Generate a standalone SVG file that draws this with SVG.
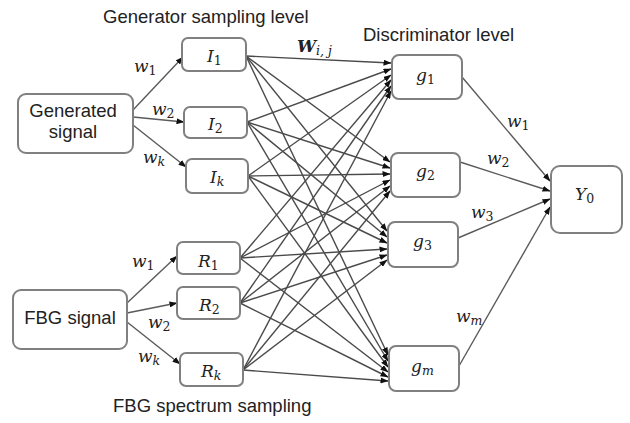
<svg xmlns="http://www.w3.org/2000/svg" width="630" height="423" viewBox="0 0 630 423">
<defs>
<marker id="ah" markerUnits="userSpaceOnUse" markerWidth="8" markerHeight="6" refX="7.5" refY="3" orient="auto">
<path d="M0,0 L8,3 L0,6 z" fill="#111"/>
</marker>
<style>
.box{fill:#fff;stroke:#808080;stroke-width:2}
.lbl{font-family:"Liberation Sans",Arial,sans-serif;font-size:18.5px;fill:#222}
.m{font-family:"DejaVu Serif","Liberation Serif",serif;font-style:italic;font-size:17px;fill:#222}
.s{font-size:12.5px}
.n{font-style:normal}
.c line{stroke:#4a4a4a;stroke-width:1.4;marker-end:url(#ah)}
.c .in line{stroke:#5a5a5a}
</style>
</defs>
<rect width="630" height="423" fill="#fff"/>

<text class="lbl" x="103" y="23">Generator sampling level</text>
<text class="lbl" x="363" y="41">Discriminator level</text>
<text class="lbl" x="113" y="412">FBG spectrum sampling</text>
<text class="m" x="297" y="52" font-weight="bold">W<tspan class="s" dy="3" font-weight="normal">i, j</tspan></text>

<g class="c" id="connectors">
<g class="in">
<line x1="133" y1="110" x2="183" y2="57"/>
<line x1="133" y1="117" x2="184" y2="122"/>
<line x1="133" y1="125" x2="186" y2="167"/>
<line x1="127" y1="303" x2="177" y2="256"/>
<line x1="127" y1="313" x2="177" y2="303"/>
<line x1="127" y1="322" x2="180" y2="364"/>
</g>
<!-- I1 -->
<line x1="246" y1="56" x2="391" y2="63"/>
<line x1="246" y1="56" x2="390" y2="162"/>
<line x1="246" y1="56" x2="387" y2="231"/>
<line x1="246" y1="56" x2="388" y2="355"/>
<!-- I2 -->
<line x1="247" y1="122" x2="391" y2="69"/>
<line x1="247" y1="122" x2="390" y2="168"/>
<line x1="247" y1="122" x2="387" y2="237"/>
<line x1="247" y1="122" x2="388" y2="361"/>
<!-- Ik -->
<line x1="248" y1="176" x2="391" y2="75"/>
<line x1="248" y1="176" x2="390" y2="174"/>
<line x1="248" y1="176" x2="387" y2="243"/>
<line x1="248" y1="176" x2="388" y2="367"/>
<!-- R1 -->
<line x1="240" y1="258" x2="391" y2="80"/>
<line x1="240" y1="258" x2="390" y2="180"/>
<line x1="240" y1="258" x2="387" y2="249"/>
<line x1="240" y1="258" x2="388" y2="372"/>
<!-- R2 -->
<line x1="240" y1="303" x2="391" y2="86"/>
<line x1="240" y1="303" x2="390" y2="186"/>
<line x1="240" y1="303" x2="387" y2="255"/>
<line x1="240" y1="303" x2="388" y2="377"/>
<!-- Rk -->
<line x1="243" y1="370" x2="391" y2="91"/>
<line x1="243" y1="370" x2="390" y2="191"/>
<line x1="243" y1="370" x2="387" y2="260"/>
<line x1="243" y1="370" x2="388" y2="381"/>
<g class="in">
<line x1="462" y1="77" x2="550" y2="181"/>
<line x1="460" y1="162" x2="550" y2="191"/>
<line x1="458" y1="238" x2="550" y2="199"/>
<line x1="459" y1="366" x2="550" y2="207"/>
</g>
</g>

<g id="weights">
<text class="m" x="134" y="72">w<tspan class="s n" dy="3">1</tspan></text>
<text class="m" x="152" y="115">w<tspan class="s n" dy="3">2</tspan></text>
<text class="m" x="143" y="163">w<tspan class="s" dy="3">k</tspan></text>
<text class="m" x="132" y="267">w<tspan class="s n" dy="3">1</tspan></text>
<text class="m" x="148" y="328">w<tspan class="s n" dy="3">2</tspan></text>
<text class="m" x="138" y="362">w<tspan class="s" dy="3">k</tspan></text>
<text class="m" x="507" y="127">w<tspan class="s n" dy="3">1</tspan></text>
<text class="m" x="487" y="164">w<tspan class="s n" dy="3">2</tspan></text>
<text class="m" x="471" y="218">w<tspan class="s n" dy="3">3</tspan></text>
<text class="m" x="456" y="322">w<tspan class="s" dy="3">m</tspan></text>
</g>

<g id="generated">
<rect class="box" x="18" y="94" width="115" height="59" rx="8"/>
<text class="lbl" x="73" y="117" text-anchor="middle">Generated</text>
<text class="lbl" x="73" y="138" text-anchor="middle">signal</text>
</g>
<g id="fbg">
<rect class="box" x="13" y="290" width="114" height="59" rx="8"/>
<text class="lbl" x="70" y="324" text-anchor="middle">FBG signal</text>
</g>
<g id="I1"><rect class="box" x="182" y="38" width="64" height="33" rx="6"/><text class="m" x="207" y="62">I<tspan class="s n" dy="3">1</tspan></text></g>
<g id="I2"><rect class="box" x="184" y="107" width="63" height="31" rx="6"/><text class="m" x="208" y="130">I<tspan class="s n" dy="3">2</tspan></text></g>
<g id="Ik"><rect class="box" x="186" y="159" width="62" height="34" rx="6"/><text class="m" x="210" y="183">I<tspan class="s" dy="3">k</tspan></text></g>
<g id="R1"><rect class="box" x="177" y="242" width="63" height="32" rx="6"/><text class="m" x="198" y="267">R<tspan class="s n" dy="3">1</tspan></text></g>
<g id="R2"><rect class="box" x="177" y="287" width="63" height="32" rx="6"/><text class="m" x="199" y="311">R<tspan class="s n" dy="3">2</tspan></text></g>
<g id="Rk"><rect class="box" x="180" y="353" width="63" height="33" rx="6"/><text class="m" x="201" y="377">R<tspan class="s" dy="3">k</tspan></text></g>
<g id="g1"><rect class="box" x="392" y="55" width="70" height="44" rx="7"/><text class="m" x="416" y="81">g<tspan class="s n" dy="3">1</tspan></text></g>
<g id="g2"><rect class="box" x="391" y="153" width="69" height="44" rx="7"/><text class="m" x="416" y="177">g<tspan class="s n" dy="3">2</tspan></text></g>
<g id="g3"><rect class="box" x="388" y="222" width="70" height="45" rx="7"/><text class="m" x="413" y="247">g<tspan class="s n" dy="3">3</tspan></text></g>
<g id="gm"><rect class="box" x="389" y="346" width="70" height="45" rx="7"/><text class="m" x="411" y="372">g<tspan class="s" dy="3">m</tspan></text></g>
<g id="Y0"><rect class="box" x="551" y="166" width="71" height="67" rx="9"/><text class="m" x="575" y="200">Y<tspan class="s n" dy="3">0</tspan></text></g>
</svg>
